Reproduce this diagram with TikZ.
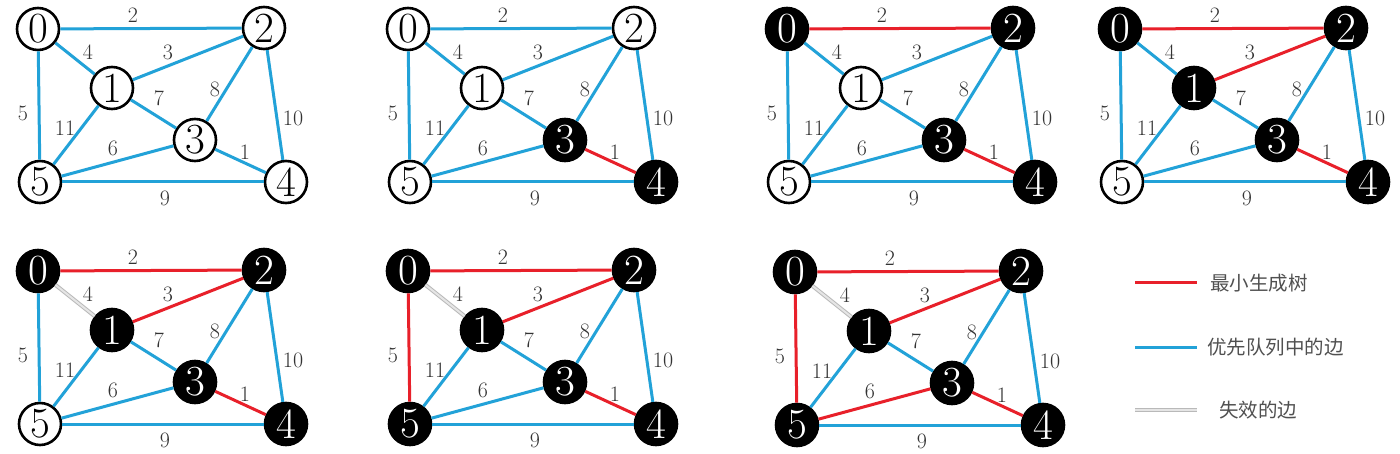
\documentclass[tikz,border=0pt]{standalone}
\usepackage{fontspec}
\newfontfamily\cjk{Noto Sans CJK SC}
\definecolor{qblue}{HTML}{22A2D8}
\definecolor{mred}{HTML}{E8202A}
\definecolor{lgtxt}{HTML}{505050}
\tikzset{
  vtx/.style={circle, draw=black, line width=2.6pt, fill=white, text=black,
    minimum size=42pt, inner sep=0pt, font=\fontsize{43}{43}\selectfont},
  blk/.style={fill=black, text=white},
  qedge/.style={draw=qblue, line width=3pt},
  mstE/.style={draw=mred},
  deadE/.style={draw=gray!55, double=gray!20, double distance=2pt, line width=1pt},
  wlbl/.style={font=\fontsize{22}{22}\selectfont, text=black!80, inner sep=0pt},
  lgline/.style={line width=3pt},
  lgtext/.style={font=\cjk\fontsize{19.5}{19.5}\selectfont, text=lgtxt, anchor=west, inner sep=0pt},
  v0/.style={}, v1/.style={}, v2/.style={}, v3/.style={}, v4/.style={}, v5/.style={},
  e02/.style={}, e01/.style={}, e12/.style={}, e13/.style={}, e23/.style={},
  e05/.style={}, e15/.style={}, e24/.style={}, e35/.style={}, e34/.style={}, e45/.style={}
}
\newcommand\mygraph[1]{%
  \node[vtx,v0] (#1a0) at (38,29) {0};
  \node[vtx,v1] (#1a1) at (112,88) {1};
  \node[vtx,v2] (#1a2) at (264,28) {2};
  \node[vtx,v3] (#1a3) at (195,140) {3};
  \node[vtx,v4] (#1a4) at (286,182) {4};
  \node[vtx,v5] (#1a5) at (40,182) {5};
  \draw[qedge,e02] (#1a0) -- (#1a2);
  \draw[qedge,e01] (#1a0) -- (#1a1);
  \draw[qedge,e12] (#1a1) -- (#1a2);
  \draw[qedge,e13] (#1a1) -- (#1a3);
  \draw[qedge,e23] (#1a2) -- (#1a3);
  \draw[qedge,e05] (#1a0) -- (#1a5);
  \draw[qedge,e15] (#1a1) -- (#1a5);
  \draw[qedge,e24] (#1a2) -- (#1a4);
  \draw[qedge,e35] (#1a3) -- (#1a5);
  \draw[qedge,e34] (#1a3) -- (#1a4);
  \draw[qedge,e45] (#1a4) -- (#1a5);
  \node[wlbl] (#1l02) at (133,15) {2};
  \node[wlbl] (#1l01) at (88,52) {4};
  \node[wlbl] (#1l12) at (168,52) {3};
  \node[wlbl] (#1l13) at (159,98) {7};
  \node[wlbl] (#1l23) at (215,89) {8};
  \node[wlbl] (#1l05) at (23,113) {5};
  \node[wlbl] (#1l15) at (65,128) {11};
  \node[wlbl] (#1l24) at (293,118) {10};
  \node[wlbl] (#1l35) at (113,148) {6};
  \node[wlbl] (#1l34) at (245,152) {1};
  \node[wlbl] (#1l45) at (165,198) {9};
}
\begin{document}
\begin{tikzpicture}[x=1pt,y=-1pt]
  \fill[white] (0,0) rectangle (1400,454);
  \useasboundingbox (0,0) rectangle (1400,454);
  % graph 1
  \begin{scope}[shift={(0,0)}]
    \mygraph{ga}
  \end{scope}
  % graph 2
  \begin{scope}[shift={(370,0)}, v3/.style=blk, v4/.style=blk, e34/.style=mstE]
    \mygraph{gb}
  \end{scope}
  % graph 3
  \begin{scope}[shift={(749,0)}, v0/.style=blk, v2/.style=blk, v3/.style=blk, v4/.style=blk,
      e02/.style=mstE, e34/.style=mstE]
    \mygraph{gc}
  \end{scope}
  % graph 4
  \begin{scope}[shift={(1082,0)}, v0/.style=blk, v1/.style=blk, v2/.style=blk, v3/.style=blk, v4/.style=blk,
      e02/.style=mstE, e12/.style=mstE, e34/.style=mstE]
    \mygraph{gd}
  \end{scope}
  % graph 5
  \begin{scope}[shift={(0,242)}, v0/.style=blk, v1/.style=blk, v2/.style=blk, v3/.style=blk, v4/.style=blk,
      e02/.style=mstE, e12/.style=mstE, e34/.style=mstE, e01/.style=deadE]
    \mygraph{ge}
  \end{scope}
  % graph 6
  \begin{scope}[shift={(370,242)}, v0/.style=blk, v1/.style=blk, v2/.style=blk, v3/.style=blk, v4/.style=blk, v5/.style=blk,
      e02/.style=mstE, e12/.style=mstE, e34/.style=mstE, e05/.style=mstE, e01/.style=deadE]
    \mygraph{gf}
  \end{scope}
  % graph 7
  \begin{scope}[shift={(757,243)}, v0/.style=blk, v1/.style=blk, v2/.style=blk, v3/.style=blk, v4/.style=blk, v5/.style=blk,
      e02/.style=mstE, e12/.style=mstE, e34/.style=mstE, e05/.style=mstE, e35/.style=mstE, e01/.style=deadE]
    \mygraph{gg}
  \end{scope}
  % legend
  \coordinate (lra) at (1135,283); \coordinate (lrb) at (1197,283);
  \coordinate (lba) at (1135,347); \coordinate (lbb) at (1197,347);
  \coordinate (lga) at (1135,410); \coordinate (lgb) at (1197,410);
  \draw[lgline, mred] (lra) -- (lrb);
  \draw[lgline, qblue] (lba) -- (lbb);
  \draw[deadE] (lga) -- (lgb);
  \node[lgtext] (ltr) at (1210,283) {最小生成树};
  \node[lgtext] (ltb) at (1207,347) {优先队列中的边};
  \node[lgtext] (ltg) at (1219,410) {失效的边};
\end{tikzpicture}
\end{document}
